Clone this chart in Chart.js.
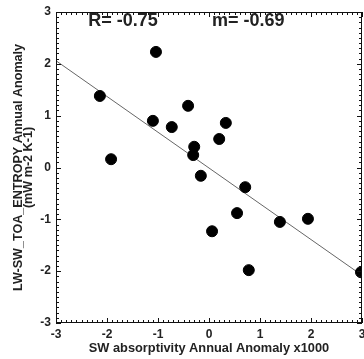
<!DOCTYPE html>
<html>
<head>
<meta charset="utf-8">
<script src="https://cdn.jsdelivr.net/npm/chart.js@4/dist/chart.umd.min.js"></script>
<style>
  html, body { margin: 0; padding: 0; background: #fff; }
  canvas { display: block; }
</style>
</head>
<body>
<canvas id="scatter" width="364" height="359"></canvas>
<script>
// values
const swAnomaly = [-2.14, -1.04, -0.41, -1.10, -0.73, 0.33, 0.20, -0.29, -0.31, -1.92, -0.16, 0.71, 0.55, 1.39, 1.94, 0.06, 0.78, 2.98];
const entropyAnomaly = [1.38, 2.23, 1.19, 0.90, 0.78, 0.86, 0.55, 0.40, 0.24, 0.16, -0.16, -0.38, -0.88, -1.05, -0.99, -1.23, -1.98, -2.02];
const fitX = [-3, 3];
const fitY = [2.06, -2.08];
const axisTicks = [-3, -2, -1, 0, 1, 2, 3];
const statLabels = ['R= -0.75', 'm= -0.69'];
const statLabelX = [-2.37, 0.06];

const points = swAnomaly.map((x, i) => ({ x: x, y: entropyAnomaly[i] }));
const fitLine = fitX.map((x, i) => ({ x: x, y: fitY[i] }));

// box with inward major + minor ticks on all four sides, plus the R / m text
const frameTicks = {
    id: 'frameTicks',
    afterDatasetsDraw(chart) {
        const { ctx, chartArea: a, scales: { x, y } } = chart;
        ctx.save();
        ctx.strokeStyle = '#111';
        ctx.lineWidth = 1;
        ctx.strokeRect(a.left + 0.5, a.top + 0.5, a.right - a.left - 1, a.bottom - a.top - 1);
        ctx.beginPath();
        for (let k = -30; k <= 30; k++) {
            const len = k % 10 === 0 ? 5 : 3;
            const px = Math.round(x.getPixelForValue(k / 10)) + 0.5;
            ctx.moveTo(px, a.bottom); ctx.lineTo(px, a.bottom - len);
            ctx.moveTo(px, a.top); ctx.lineTo(px, a.top + len);
            const py = Math.round(y.getPixelForValue(k / 10)) + 0.5;
            ctx.moveTo(a.left, py); ctx.lineTo(a.left + len, py);
            ctx.moveTo(a.right, py); ctx.lineTo(a.right - len, py);
        }
        ctx.stroke();

        ctx.fillStyle = '#222';
        ctx.font = 'bold 18px "Liberation Sans", Arial, sans-serif';
        ctx.textBaseline = 'alphabetic';
        ctx.textAlign = 'left';
        statLabels.forEach((t, i) => {
            ctx.fillText(t, x.getPixelForValue(statLabelX[i]), a.top + 14);
        });
        ctx.restore();
    }
};

new Chart(document.getElementById('scatter'), {
    type: 'scatter',
    data: {
        datasets: [{
            data: points,
            backgroundColor: '#000',
            borderColor: '#000',
            pointRadius: 5.5,
            pointHoverRadius: 5.5
        }, {
            type: 'line',
            data: fitLine,
            borderColor: '#666',
            borderWidth: 1,
            pointRadius: 0,
            fill: false
        }]
    },
    options: {
        responsive: false,
        animation: false,
        layout: { autoPadding: false, padding: { top: 12, right: 2, left: 0, bottom: 0 } },
        plugins: {
            legend: { display: false },
            tooltip: { enabled: false }
        },
        scales: {
            x: {
                type: 'linear',
                min: -3,
                max: 3,
                afterBuildTicks: s => { s.ticks = axisTicks.map(v => ({ value: v })); },
                afterFit: s => { s.height = 36; s.paddingLeft = 0; s.paddingRight = 0; },
                grid: { display: false, drawTicks: false },
                border: { display: false },
                ticks: {
                    autoSkip: false,
                    maxRotation: 0,
                    padding: 4,
                    color: '#222',
                    font: { family: '"Liberation Sans", Arial, sans-serif', size: 12, weight: 'bold' }
                },
                title: {
                    display: true,
                    text: 'SW absorptivity Annual Anomaly x1000',
                    color: '#222',
                    padding: { top: 0, bottom: 2.5 },
                    font: { family: '"Liberation Sans", Arial, sans-serif', size: 12.8, weight: 'bold' }
                }
            },
            y: {
                type: 'linear',
                min: -3,
                max: 3,
                afterBuildTicks: s => { s.ticks = axisTicks.map(v => ({ value: v })); },
                afterFit: s => { s.width = 56; s.paddingTop = 0; s.paddingBottom = 0; },
                grid: { display: false, drawTicks: false },
                border: { display: false },
                ticks: {
                    autoSkip: false,
                    padding: 5,
                    color: '#222',
                    font: { family: '"Liberation Sans", Arial, sans-serif', size: 12, weight: 'bold' }
                },
                title: {
                    display: true,
                    text: ['LW-SW_TOA_ENTROPY Annual Anomaly', '(mW m-2 K-1)'],
                    color: '#222',
                    padding: { top: 13.2, bottom: 0 },
                    font: { family: '"Liberation Sans", Arial, sans-serif', size: 12.6, weight: 'bold', lineHeight: 0.83 }
                }
            }
        }
    },
    plugins: [frameTicks]
});
</script>
</body>
</html>
